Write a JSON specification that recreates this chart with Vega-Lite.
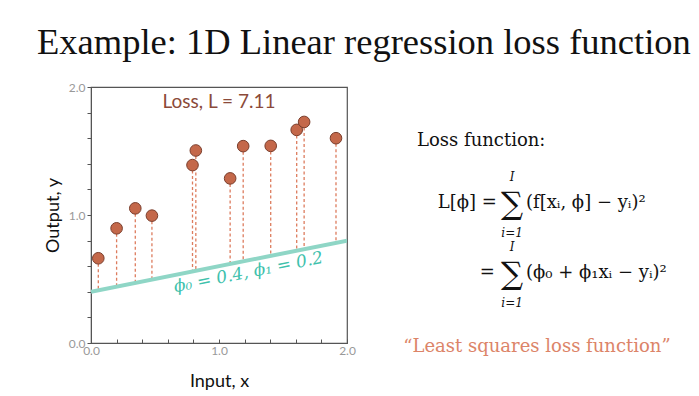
{
  "$schema": "https://vega.github.io/schema/vega-lite/v6.json",
  "width": 256,
  "height": 256,
  "autosize": {"type": "none"},
  "padding": {"left": 91, "top": 87, "right": 352, "bottom": 53},
  "background": "white",
  "title": {
    "text": "Example: 1D Linear regression loss function",
    "font": "Liberation Serif",
    "fontSize": 36.5,
    "fontWeight": "normal",
    "color": "#111111",
    "anchor": "start",
    "frame": "group",
    "dx": -54,
    "offset": 20
  },
  "config": {
    "view": {"stroke": "#555555", "strokeWidth": 1.2},
    "axis": {
      "grid": false,
      "domainColor": "#555555",
      "tickColor": "#555555",
      "labelColor": "#999999",
      "labelFont": "Lato",
      "labelFontSize": 12,
      "labelOverlap": false,
      "titleFont": "Lato",
      "titleFontSize": 18,
      "titleFontWeight": "normal",
      "titleColor": "#111111"
    }
  },
  "datasets": {
    "points": [
      {"x": 0.057, "y": 0.662, "pred": 0.411},
      {"x": 0.2, "y": 0.896, "pred": 0.44},
      {"x": 0.346, "y": 1.052, "pred": 0.469},
      {"x": 0.476, "y": 0.995, "pred": 0.495},
      {"x": 0.793, "y": 1.39, "pred": 0.559},
      {"x": 0.819, "y": 1.504, "pred": 0.564},
      {"x": 1.087, "y": 1.286, "pred": 0.617},
      {"x": 1.189, "y": 1.538, "pred": 0.638},
      {"x": 1.404, "y": 1.54, "pred": 0.681},
      {"x": 1.607, "y": 1.665, "pred": 0.721},
      {"x": 1.665, "y": 1.727, "pred": 0.733},
      {"x": 1.914, "y": 1.6, "pred": 0.783}
    ],
    "fit": [
      {"x": 0, "y": 0.4},
      {"x": 2, "y": 0.8}
    ]
  },
  "layer": [
    {
      "data": {"name": "points"},
      "mark": {"type": "rule", "color": "#dd7c5e", "strokeWidth": 1.3, "strokeDash": [3, 2.5]},
      "encoding": {
        "x": {
          "field": "x", "type": "quantitative",
          "scale": {"domain": [0, 2], "nice": false, "zero": false},
          "axis": {
            "title": "Input, x",
            "values": [0, 0.2, 0.4, 0.6, 0.8, 1, 1.2, 1.4, 1.6, 1.8, 2],
            "tickCount": 20,
            "format": ".1f",
            "labelExpr": "datum.label == '0.0' || datum.label == '1.0' || datum.label == '2.0' ? datum.label : ''",
            "labelOverlap": false,
            "tickSize": -4,
            "labelPadding": 6,
            "titlePadding": 16,
            "labelFlush": false
          }
        },
        "y": {
          "field": "y", "type": "quantitative",
          "scale": {"domain": [0, 2], "nice": false, "zero": false},
          "axis": {
            "title": "Output, y",
            "values": [0, 0.2, 0.4, 0.6, 0.8, 1, 1.2, 1.4, 1.6, 1.8, 2],
            "tickCount": 20,
            "format": ".1f",
            "labelExpr": "datum.label == '0.0' || datum.label == '1.0' || datum.label == '2.0' ? datum.label : ''",
            "labelOverlap": false,
            "tickSize": 4,
            "labelPadding": 2,
            "titlePadding": 6,
            "labelFlush": false
          }
        },
        "y2": {"field": "pred"}
      }
    },
    {
      "data": {"name": "fit"},
      "mark": {"type": "line", "color": "#8fd6c6", "strokeWidth": 4, "clip": true},
      "encoding": {
        "x": {"field": "x", "type": "quantitative"},
        "y": {"field": "y", "type": "quantitative"}
      }
    },
    {
      "data": {"name": "points"},
      "mark": {"type": "point", "shape": "circle", "filled": true, "fill": "#c4684a", "stroke": "#7a3d2b", "strokeWidth": 1, "opacity": 1, "size": 135},
      "encoding": {
        "x": {"field": "x", "type": "quantitative"},
        "y": {"field": "y", "type": "quantitative"}
      }
    },
    {
      "data": {"values": [{"label": "Loss, L = 7.11", "x": 1.0, "y": 1.88}]},
      "mark": {"type": "text", "font": "Lato", "fontSize": 19, "color": "#8b4a3a", "align": "center", "baseline": "middle"},
      "encoding": {
        "x": {"field": "x", "type": "quantitative"},
        "y": {"field": "y", "type": "quantitative"},
        "text": {"field": "label"}
      }
    },
    {
      "data": {"values": [{"label": "ϕ₀ = 0.4, ϕ₁ = 0.2", "x": 1.23, "y": 0.55}]},
      "mark": {"type": "text", "font": "DejaVu Serif", "fontStyle": "italic", "fontSize": 17, "color": "#3ec1ac", "align": "center", "baseline": "middle", "angle": 348.7},
      "encoding": {
        "x": {"field": "x", "type": "quantitative"},
        "y": {"field": "y", "type": "quantitative"},
        "text": {"field": "label"}
      }
    },
    {
      "data": {"values": [{"label": "Loss function:", "x": 2.547, "y": 1.539}]},
      "mark": {"type": "text", "font": "DejaVu Serif", "fontSize": 18, "color": "#111111", "align": "left", "baseline": "alphabetic"},
      "encoding": {
        "x": {"field": "x", "type": "quantitative"},
        "y": {"field": "y", "type": "quantitative"},
        "text": {"field": "label"}
      }
    },
    {
      "data": {"values": [
        {"label": "L[ϕ] =", "x": 3.17, "y": 1.055},
        {"label": "=", "x": 3.156, "y": 0.508}
      ]},
      "mark": {"type": "text", "font": "DejaVu Serif", "fontSize": 18, "color": "#111111", "align": "right", "baseline": "alphabetic"},
      "encoding": {
        "x": {"field": "x", "type": "quantitative"},
        "y": {"field": "y", "type": "quantitative"},
        "text": {"field": "label"}
      }
    },
    {
      "data": {"values": [
        {"label": "(f[xᵢ, ϕ] − yᵢ)²", "x": 3.398, "y": 1.055},
        {"label": "(ϕ₀ + ϕ₁xᵢ − yᵢ)²", "x": 3.398, "y": 0.508}
      ]},
      "mark": {"type": "text", "font": "DejaVu Serif", "fontSize": 18, "color": "#111111", "align": "left", "baseline": "alphabetic"},
      "encoding": {
        "x": {"field": "x", "type": "quantitative"},
        "y": {"field": "y", "type": "quantitative"},
        "text": {"field": "label"}
      }
    },
    {
      "data": {"values": [
        {"label": "∑", "x": 3.29, "y": 1.078},
        {"label": "∑", "x": 3.29, "y": 0.531}
      ]},
      "mark": {"type": "text", "font": "DejaVu Serif", "fontSize": 31, "color": "#111111", "align": "center", "baseline": "middle"},
      "encoding": {
        "x": {"field": "x", "type": "quantitative"},
        "y": {"field": "y", "type": "quantitative"},
        "text": {"field": "label"}
      }
    },
    {
      "data": {"values": [
        {"label": "I", "x": 3.29, "y": 1.3},
        {"label": "i=1", "x": 3.29, "y": 0.86},
        {"label": "I", "x": 3.29, "y": 0.753},
        {"label": "i=1", "x": 3.29, "y": 0.313}
      ]},
      "mark": {"type": "text", "font": "DejaVu Serif", "fontStyle": "italic", "fontSize": 12, "color": "#111111", "align": "center", "baseline": "middle"},
      "encoding": {
        "x": {"field": "x", "type": "quantitative"},
        "y": {"field": "y", "type": "quantitative"},
        "text": {"field": "label"}
      }
    },
    {
      "data": {"values": [{"label": "“Least squares loss function”", "x": 3.484, "y": -0.07}]},
      "mark": {"type": "text", "font": "DejaVu Serif", "fontSize": 18, "color": "#dc8468", "align": "center", "baseline": "alphabetic"},
      "encoding": {
        "x": {"field": "x", "type": "quantitative"},
        "y": {"field": "y", "type": "quantitative"},
        "text": {"field": "label"}
      }
    }
  ]
}
